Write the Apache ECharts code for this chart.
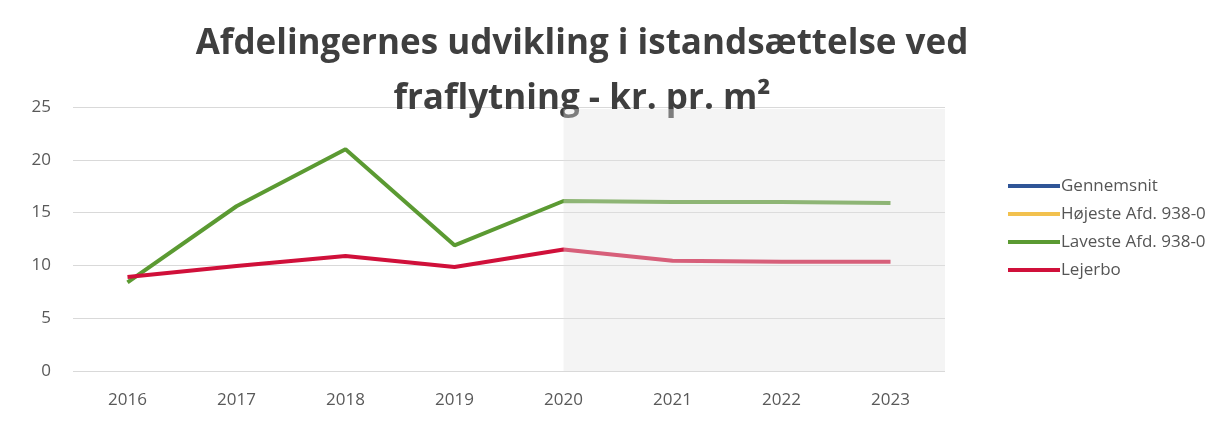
<!DOCTYPE html>
<html>
<head>
<meta charset="utf-8">
<script src="https://cdn.jsdelivr.net/npm/echarts@6/dist/echarts.min.js"></script>
<style>
  html, body { margin: 0; padding: 0; background: #ffffff; }
  #chart { width: 1231px; height: 434px; }
</style>
</head>
<body>
<div id="chart"></div>
<script>
// Years on the x axis
const years = ['2016', '2017', '2018', '2019', '2020', '2021', '2022', '2023'];
// Y axis range
const yMin = 0, yMax = 25, yStep = 5;
// Series values (kr. pr. m²)
const gennemsnit = [];
const hojeste = [];
const laveste = [8.4, 15.6, 21.0, 11.9, 16.1, 16.0, 16.0, 15.9];
const lejerbo = [8.9, 9.95, 10.9, 9.85, 11.5, 10.45, 10.35, 10.35];
// First year of the forecast period (shaded)
const forecastStart = '2020';

const titleText = 'Afdelingernes udvikling i istandsættelse ved\nfraflytning - kr. pr. m²';

const chart = echarts.init(document.getElementById('chart'), null, { renderer: 'canvas' });

const lineSeries = (name, data, color) => ({
  name: name,
  type: 'line',
  data: data,
  symbol: 'none',
  lineStyle: { width: 4, color: color },
  itemStyle: { color: color },
  z: 3
});

const option = {
  backgroundColor: '#ffffff',
  animation: false,
  title: {
    text: titleText,
    left: 577,
    top: 12,
    textAlign: 'center',
    textStyle: {
      fontFamily: 'Open Sans',
      fontWeight: 'bold',
      fontSize: 35,
      lineHeight: 55,
      color: '#3f3f3f'
    }
  },
  legend: {
    orient: 'vertical',
    left: 1003,
    top: 172,
    itemGap: 10,
    itemWidth: 52,
    itemHeight: 4,
    icon: 'rect',
    textStyle: { fontFamily: 'Open Sans', fontSize: 17, lineHeight: 18, color: '#555555', padding: [0, 0, 0, -4] },
    data: ['Gennemsnit', 'Højeste Afd. 938-0', 'Laveste Afd. 938-0', 'Lejerbo']
  },
  grid: { left: 73, right: 286, top: 107, bottom: 63, containLabel: false },
  xAxis: {
    type: 'category',
    data: years,
    boundaryGap: true,
    axisLine: { show: false },
    axisTick: { show: false },
    axisLabel: { fontFamily: 'Open Sans', fontSize: 17, color: '#595959', margin: 21 }
  },
  yAxis: {
    type: 'value',
    min: yMin,
    max: yMax,
    interval: yStep,
    axisLine: { show: false },
    axisTick: { show: false },
    axisLabel: { fontFamily: 'Open Sans', fontSize: 17, color: '#595959', margin: 22 },
    splitLine: { lineStyle: { color: '#d9d9d9', width: 1 } }
  },
  series: [
    lineSeries('Gennemsnit', gennemsnit, '#2f5597'),
    lineSeries('Højeste Afd. 938-0', hojeste, '#f2c14e'),
    lineSeries('Laveste Afd. 938-0', laveste, '#5b9a32'),
    lineSeries('Lejerbo', lejerbo, '#d0103a')
  ]
};

chart.setOption(option);

// Shaded forecast band: from the forecast start year to the right edge of the plot
const grid = chart.getModel().getComponent('grid').coordinateSystem.getRect();
const xStart = chart.convertToPixel({ xAxisIndex: 0 }, forecastStart);
chart.setOption({
  graphic: [{
    type: 'rect',
    z: 100,
    silent: true,
    shape: { x: xStart, y: grid.y + 2, width: grid.x + grid.width - xStart, height: grid.height - 2 },
    style: { fill: 'rgba(226,226,226,0.38)' }
  }]
});
</script>
</body>
</html>
